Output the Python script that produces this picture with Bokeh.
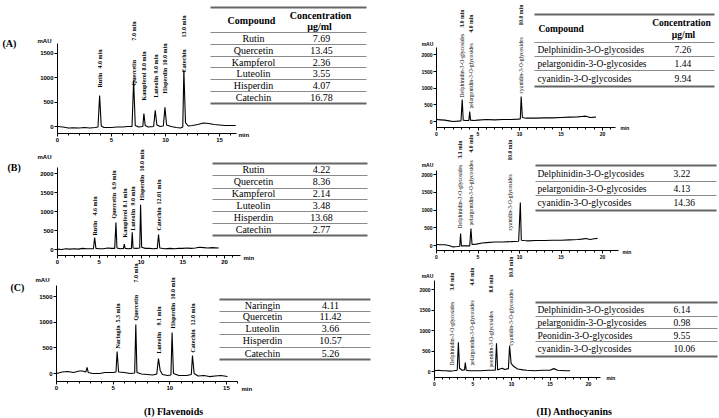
import math
from bokeh.plotting import figure
from bokeh.models import Range1d, LinearAxis, FixedTicker
from bokeh.core.properties import value
from bokeh.embed import file_html
from bokeh.resources import INLINE

# ---------------- data ----------------
# (I) Flavonoids
ia_names = ["Rutin", "Quercetin", "Kampferol", "Luteolin", "Hisperdin", "Catechin"]
ia_conc = ["7.69", "13.45", "2.36", "3.55", "4.07", "16.78"]
ia_rt_labels = ["4.0 min", "7.0 min", "8.0 min", "9.0 min", "10.0 min", "13.0 min"]
ia_time = [0, 0.5, 1, 1.5, 2, 2.5, 3, 3.5, 3.75, 3.9, 4.05, 4.3, 5, 5.5, 6, 6.5, 6.9,
           7.05, 7.2, 7.5, 7.9, 8.0, 8.12, 8.4, 8.9, 9.05, 9.2, 9.5, 9.8, 9.95, 10.1,
           10.5, 11, 11.4, 11.6, 11.7, 11.85, 12.1, 12.5, 13, 13.5, 14, 14.5, 15, 15.5, 16, 16.5]
ia_mau = [0, -10, -30, -25, -30, -20, -30, -20, -10, 630, 10, -20, -20, -10, -10, 0, 0,
          940, 20, -10, 0, 265, 20, -10, 0, 330, 30, 0, 10, 390, 30,
          0, -20, -30, -10, 1160, 80, 10, 20, 40, 70, 60, 40, 30, 20, 20, 20]

ib_names = ["Rutin", "Quercetin", "Kampferol", "Luteolin", "Hisperdin", "Catechin"]
ib_conc = ["4.22", "8.36", "2.14", "3.48", "13.68", "2.77"]
ib_rt_labels = ["4.6 min", "6.9 min", "8.1 min", "9.0 min", "10.0 min", "12.01 min"]
ib_time = [0, 0.5, 1, 1.5, 2, 2.5, 3, 3.5, 4, 4.3, 4.45, 4.6, 5, 5.5, 6, 6.5, 6.85,
           7.0, 7.12, 7.5, 7.9, 8.0, 8.1, 8.5, 8.85, 8.95, 9.05, 9.4, 9.85, 9.95, 10.08,
           10.5, 11, 11.5, 11.95, 12.1, 12.25, 12.8, 13.5, 14, 14.5, 15, 15.5, 16, 16.5,
           17, 17.5, 18, 18.5, 19.3]
ib_mau = [10, 0, 20, 10, 20, 10, 30, 20, 20, 20, 315, 30, 20, 20, 40, 30, 30,
          710, 40, 20, 30, 140, 30, 20, 30, 450, 40, 30, 40, 1180, 60,
          30, 30, 20, 30, 395, 40, 20, 30, 20, 30, 30, 40, 30, 40,
          60, 50, 40, 50, 40]

ic_names = ["Naringin", "Quercetin", "Luteolin", "Hisperdin", "Catechin"]
ic_conc = ["4.11", "11.42", "3.66", "10.57", "5.26"]
ic_rt_labels = ["5.3 min", "7.0 min", "9.1 min", "10.0 min", "12.0 min"]
ic_time = [0, 0.5, 1, 1.5, 2, 2.3, 2.6, 2.7, 2.8, 3.2, 3.8, 4.3, 5.0, 5.25, 5.35, 5.48,
           6, 6.5, 6.9, 7.0, 7.1, 7.5, 8, 8.5, 8.85, 9.0, 9.15, 9.35, 9.8, 10.1, 10.2,
           10.32, 10.8, 11.5, 11.9, 12.0, 12.15, 12.5, 13, 13.5, 14, 14.5, 15.1]
ic_mau = [0, 30, 40, 20, 50, 50, 30, 120, 20, 0, 0, 20, 20, 30, 430, 30,
          20, 0, 10, 955, 20, -10, -20, -30, -10, 290, 60, -20, -40, -30, 800,
          0, -40, -40, -20, 350, 0, -50, -40, -60, -50, -40, -60]

# (II) Anthocyanins
iia_names = ["Delphinidin-3-O-glycosides", "pelargonidin-3-O-glycosides", "cyanidin-3-O-glycosides"]
iia_conc = ["7.26", "1.44", "9.94"]
iia_rt_labels = ["3.0 min", "4.0 min", "10.0 min"]
iia_time = [0, 0.5, 1, 1.5, 2, 2.5, 2.95, 3.1, 3.22, 3.5, 3.9, 4.0, 4.1, 4.5, 5, 6, 7, 8, 9,
            9.8, 10.1, 10.2, 10.35, 10.8, 12, 13, 14, 15, 16, 17, 17.5, 18, 18.5, 19.2]
iia_mau = [60, 50, 40, 20, 0, 10, 20, 660, 40, 30, 30, 300, 40, 30, 40, 60, 50, 60, 60,
           70, 80, 750, 120, 100, 100, 110, 110, 120, 130, 140, 150, 160, 120, 130]

iib_names = ["Delphinidin-3-O-glycosides", "pelargonidin-3-O-glycosides", "cyanidin-3-O-glycosides"]
iib_conc = ["3.22", "4.13", "14.36"]
iib_rt_labels = ["3.1 min", "4.0 min", "10.0 min"]
iib_time = [0, 0.5, 1, 1.5, 2, 2.5, 2.8, 2.9, 3.0, 3.5, 4.0, 4.15, 4.28, 4.8, 5.5, 6, 7, 8, 9,
            9.9, 10.1, 10.22, 10.6, 11, 12, 13, 14, 15, 16, 17, 17.5, 18, 18.5, 19, 19.4]
iib_mau = [30, 20, 20, 0, -40, -30, -20, 340, -10, -10, -10, 480, 30, 40, 70, 80, 100, 100, 110,
           120, 1215, 150, 140, 130, 140, 140, 150, 150, 160, 170, 180, 200, 170, 190, 200]

iic_names = ["Delphinidin-3-O-glycosides", "pelargonidin-3-O-glycosides",
             "Peonidin-3-O-glycosides", "cyanidin-3-O-glycosides"]
iic_peak_names = ["Delphinidin-3-O-glycosides", "pelargonidin-3-O-glycosides",
                  "peonidin-3-O-glycosides", "cyanidin-3-O-glycosides"]
iic_conc = ["6.14", "0.98", "9.55", "10.06"]
iic_rt_labels = ["3.0 min", "4.0 min", "8.0 min", "10.0 min"]
iic_time = [0, 0.5, 1, 1.5, 2, 2.5, 2.95, 3.1, 3.25, 3.6, 3.9, 4.0, 4.12, 4.5, 5, 6, 7, 7.9,
            8.05, 8.2, 8.5, 8.8, 9.1, 9.6, 9.75, 9.95, 10.3, 10.8, 11.5, 12, 13, 14, 15,
            15.5, 16, 17, 17.6]
iic_mau = [20, 30, 20, 20, 10, 20, 30, 710, 80, 30, 40, 220, 30, 20, 20, 20, 30, 30,
           690, 40, 60, 80, 50, 70, 630, 200, 120, 60, 40, 30, 20, 30, 30,
           70, 30, 20, 20]

x_ticks_i = [0, 5, 10, 15]
x_ticks_ii = [0, 5, 10, 15, 20]
y_ticks_1500 = [0, 500, 1000, 1500]
y_ticks_2000 = [0, 500, 1000, 1500, 2000]

# ---------------- layout (page pixel positions) ----------------
W, H = 719, 418
X0, X1 = 0, W
YB, YT = H, 0

panels = [
    dict(key="ia", time=ia_time, mau=ia_mau, px0=57, sx=10.8, py0=126, sy=0.049, t_end=16.6,
         x_ax=133, y_top=43, xt=x_ticks_i, yt=y_ticks_1500, fs="6px", mau_xy=(44, 40), min_xy=(238, 134),
         names=ia_names, rt=ia_rt_labels, lx=[99, 133, 143, 155, 164, 183],
         ny=[87, 85, 100, 97, 93, 72], ry=[68, 40, 70, 73, 65, 37], lsize="6px", lstyle="bold"),
    dict(key="ib", time=ib_time, mau=ib_mau, px0=57, sx=8.35, py0=249, sy=0.038, t_end=21.9,
         x_ax=255, y_top=167, xt=x_ticks_ii, yt=y_ticks_2000, fs="6px", mau_xy=(44, 156), min_xy=(243, 257),
         names=ib_names, rt=ib_rt_labels, lx=[94, 113, 124, 132, 141, 158],
         ny=[235, 218, 237, 230, 200, 230], ry=[215, 189, 207, 205, 171, 204], lsize="6px", lstyle="bold"),
    dict(key="ic", time=ic_time, mau=ic_mau, px0=56, sx=11.33, py0=373, sy=0.0513, t_end=16.0,
         x_ax=381, y_top=285, xt=x_ticks_i, yt=y_ticks_1500, fs="6px", mau_xy=(42, 279), min_xy=(241, 388),
         names=ic_names, rt=ic_rt_labels, lx=[117, 135, 158, 172, 192],
         ny=[348, 320, 353, 328, 352], ry=[322, 282, 325, 299, 325], lsize="6px", lstyle="bold"),
    dict(key="iia", time=iia_time, mau=iia_mau, px0=436, sx=8.3, py0=121, sy=0.0333, t_end=21.6,
         x_ax=127, y_top=47, xt=x_ticks_ii, yt=y_ticks_2000, fs="5px", mau_xy=(427, 43), min_xy=(620, 127),
         names=iia_names, rt=iia_rt_labels, lx=[461, 470, 520],
         ny=[97, 108, 93], ry=[27, 32, 25], lsize="5.7px", lstyle="normal"),
    dict(key="iib", time=iib_time, mau=iib_mau, px0=436, sx=8.3, py0=245, sy=0.0354, t_end=21.9,
         x_ax=250, y_top=170, xt=x_ticks_ii, yt=y_ticks_2000, fs="5px", mau_xy=(427, 164), min_xy=(622, 251),
         names=iib_names, rt=iib_rt_labels, lx=[459, 470, 509],
         ny=[228, 225, 230], ry=[158, 152, 160], lsize="5.7px", lstyle="normal"),
    dict(key="iic", time=iic_time, mau=iic_mau, px0=434, sx=7.7, py0=371, sy=0.041, t_end=21.6,
         x_ax=377, y_top=280, xt=x_ticks_ii, yt=y_ticks_2000, fs="5px", mau_xy=(427, 275), min_xy=(606, 377),
         names=iic_peak_names, rt=iic_rt_labels, lx=[451, 471, 490, 510],
         ny=[365, 365, 367, 345], ry=[290, 285, 292, 277], lsize="5.7px", lstyle="normal"),
]

tables = [
    dict(names=ia_names, conc=ia_conc, x0=210, x1=366, lines=[7, 32, 44, 56, 67, 79, 91, 103],
         rows=[38, 50, 62, 73, 85, 97], nx=253, nalign="center", vx=321, valign="center", fs="10px",
         header=[("Compound", 251, 20, "center"), ("Concentration", 320, 15, "center"), ("\u00b5g/ml", 319, 26, "center")]),
    dict(names=ib_names, conc=ib_conc, x0=212, x1=367, lines=[163, 175, 188, 199, 211, 223, 235],
         rows=[169, 181, 193, 205, 217, 229], nx=253, nalign="center", vx=321, valign="center", fs="10px",
         header=[]),
    dict(names=ic_names, conc=ic_conc, x0=219, x1=370, lines=[299, 311, 322, 334, 347, 359],
         rows=[305, 316, 328, 340, 353], nx=262, nalign="center", vx=330, valign="center", fs="10px",
         header=[]),
    dict(names=iia_names, conc=iia_conc, x0=534, x1=714, lines=[14, 42, 56, 70, 86],
         rows=[49, 63, 78], nx=537, nalign="left", vx=674, valign="left", fs="9.5px",
         header=[("Compound", 538, 28, "left"), ("Concentration", 681, 22, "center"), ("\u00b5g/ml", 683, 34, "center")]),
    dict(names=iib_names, conc=iib_conc, x0=535, x1=716, lines=[165, 181, 195, 210],
         rows=[173, 188, 202], nx=537, nalign="left", vx=673, valign="left", fs="9.5px",
         header=[]),
    dict(names=iic_names, conc=iic_conc, x0=535, x1=717, lines=[302, 316, 328, 341, 356],
         rows=[309, 322, 335, 348], nx=537, nalign="left", vx=673, valign="left", fs="9.5px",
         header=[]),
]

panel_tags = [("(A)", 2, 43), ("(B)", 7, 167), ("(C)", 10, 287)]
titles = [("(I) Flavenoids", 173, 411), ("(II) Anthocyanins", 574, 411)]

SERIF = value("Liberation Serif")
SANS = value("Liberation Sans")

p = figure(width=W, height=H, x_range=Range1d(X0, X1), y_range=Range1d(YB, YT),
           output_backend="svg", toolbar_location=None, x_axis_type=None, y_axis_type=None,
           min_border=0, outline_line_color=None)
p.background_fill_color = "white"
p.border_fill_color = "white"

for pn in panels:
    k = pn["key"]
    px0, sx, py0, sy = pn["px0"], pn["sx"], pn["py0"], pn["sy"]
    p.extra_x_ranges[k + "_x"] = Range1d((X0 - px0) / sx, (X1 - px0) / sx)
    p.extra_y_ranges[k + "_y"] = Range1d((py0 - YB) / sy, (py0 - YT) / sy)
    mau_bot = (py0 - pn["x_ax"]) / sy
    mau_top = (py0 - pn["y_top"]) / sy

    p.line(pn["time"], pn["mau"], x_range_name=k + "_x", y_range_name=k + "_y",
           line_color="black", line_width=1.1)

    common = dict(x_range_name=k + "_x", y_range_name=k + "_y",
                  axis_line_color="black", axis_line_width=1,
                  major_tick_line_color="black", major_tick_in=0, major_tick_out=3,
                  minor_tick_line_color="black", minor_tick_in=0, minor_tick_out=2,
                  major_label_text_font="Liberation Sans",
                  major_label_text_font_style="bold", major_label_text_font_size=pn["fs"],
                  major_label_text_color="black", major_label_standoff=1)
    minor_x = [float(i) for i in range(0, int(pn["t_end"]) + 1)]
    xa = LinearAxis(fixed_location=mau_bot, bounds=(0, pn["t_end"]),
                    ticker=FixedTicker(ticks=pn["xt"], minor_ticks=minor_x), **common)
    p.add_layout(xa, "below")
    ya = LinearAxis(fixed_location=0, bounds=(mau_bot, mau_top),
                    ticker=FixedTicker(ticks=pn["yt"]), **common)
    ya.minor_tick_line_color = None
    p.add_layout(ya, "left")

    # axis unit labels
    p.text(x=[pn["mau_xy"][0]], y=[pn["mau_xy"][1]], text=["mAU"], text_font=SANS,
           text_font_size=pn["fs"], text_font_style="bold", text_align="center",
           text_baseline="middle", text_color="black")
    p.text(x=[pn["min_xy"][0]], y=[pn["min_xy"][1]], text=["min"], text_font=SANS,
           text_font_size=pn["fs"], text_font_style="bold", text_align="left",
           text_baseline="middle", text_color="black")

    # vertical peak labels
    p.text(x=pn["lx"], y=pn["ny"], text=pn["names"], angle=math.pi / 2, text_font=SERIF,
           text_font_size=pn["lsize"], text_font_style=pn["lstyle"], text_align="left",
           text_baseline="middle", text_color="black")
    p.text(x=pn["lx"], y=pn["ry"], text=pn["rt"], angle=math.pi / 2, text_font=SERIF,
           text_font_size=pn["lsize"], text_font_style="bold", text_align="left",
           text_baseline="middle", text_color="black")

for tb in tables:
    ln = tb["lines"]
    n = len(ln)
    widths = [1.8 if (i == 0 or i == n - 1) else 1.2 for i in range(n)]
    colors = ["#666666" if (i == 0 or i == n - 1) else "#8a8a8a" for i in range(n)]
    p.segment(x0=[tb["x0"]] * n, y0=ln, x1=[tb["x1"]] * n, y1=ln,
              line_color=colors, line_width=widths)
    p.text(x=[tb["nx"]] * len(tb["names"]), y=tb["rows"], text=tb["names"], text_font=SERIF,
           text_font_size=tb["fs"], text_align=tb["nalign"], text_baseline="middle", text_color="black")
    p.text(x=[tb["vx"]] * len(tb["conc"]), y=tb["rows"], text=tb["conc"], text_font=SERIF,
           text_font_size=tb["fs"], text_align=tb["valign"], text_baseline="middle", text_color="black")
    for (t, hx, hy, al) in tb["header"]:
        p.text(x=[hx], y=[hy], text=[t], text_font=SERIF, text_font_size=tb["fs"],
               text_font_style="bold", text_align=al, text_baseline="middle", text_color="black")

for (t, tx, ty) in panel_tags:
    p.text(x=[tx], y=[ty], text=[t], text_font=SERIF, text_font_size="10px",
           text_font_style="bold", text_align="left", text_baseline="middle", text_color="black")
for (t, tx, ty) in titles:
    p.text(x=[tx], y=[ty], text=[t], text_font=SERIF, text_font_size="10px",
           text_font_style="bold", text_align="center", text_baseline="middle", text_color="black")

open("out.html", "w").write(file_html(p, INLINE))
